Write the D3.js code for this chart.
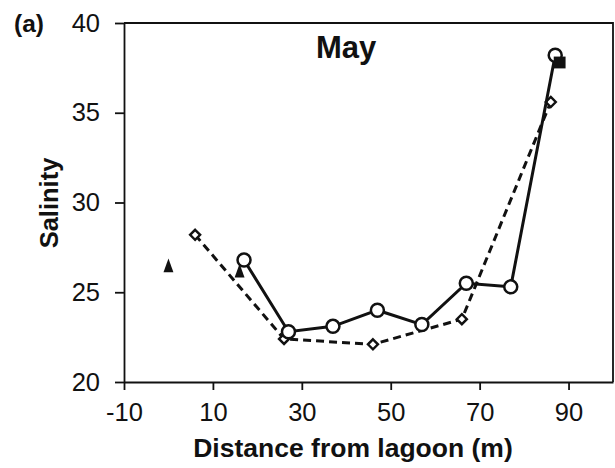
<!DOCTYPE html>
<html>
<head>
<meta charset="utf-8">
<script src="https://cdn.jsdelivr.net/npm/d3@7"></script>
<style>
  body { margin: 0; background: #fff; }
  svg { display: block; font-family: "Liberation Sans", Arial, sans-serif; }
</style>
</head>
<body>
<div id="chart"></div>
<script>
// Salinity along the transect, May

var xTicks = [-10, 10, 30, 50, 70, 90];
var yTicks = [20, 25, 30, 35, 40];

// solid line, open circles
var circleX = [17, 27, 37, 47, 57, 67, 77, 87];
var circleY = [26.8, 22.8, 23.1, 24.0, 23.2, 25.5, 25.3, 38.2];

// dashed line, open diamonds
var diamondX = [6, 26, 46, 66, 86];
var diamondY = [28.2, 22.4, 22.1, 23.5, 35.6];

// filled triangles
var triangleX = [0, 16];
var triangleY = [26.5, 26.2];

// filled square
var squareX = [88];
var squareY = [37.8];

(function() {

    var width = 615;
    var height = 468;

    var margin = { top: 23, right: 2, bottom: 86, left: 124 };

    var svg = d3.select("#chart")
        .append("svg")
        .attr("width", width)
        .attr("height", height);

    var xScale = d3.scaleLinear()
        .domain([-10, 100])
        .range([margin.left, width - margin.right]);

    var yScale = d3.scaleLinear()
        .domain([20, 40])
        .range([height - margin.bottom, margin.top]);

    function pairs(xs, ys) {
        return xs.map(function(x, i) { return { x: x, y: ys[i] }; });
    }

    var ink = "#111111";

    // plain hyphen for negatives, like the original
    function plain(d) {
        return String(d);
    }

    // narrow upright triangle, taller than wide
    var tallTriangle = {
        draw: function(context, size) {
            var s = Math.sqrt(size);
            context.moveTo(0, -s * 0.5);
            context.lineTo(s * 0.36, s * 0.5);
            context.lineTo(-s * 0.36, s * 0.5);
            context.closePath();
        }
    };

    // x axis
    var xAxis = svg.append("g")
        .attr("transform", "translate(0," + yScale(20) + ")")
        .call(d3.axisBottom(xScale).tickValues(xTicks).tickFormat(plain)
            .tickSize(8).tickPadding(13).tickSizeOuter(0));

    // y axis
    var yAxis = svg.append("g")
        .attr("transform", "translate(" + xScale(-10) + ",0)")
        .call(d3.axisLeft(yScale).tickValues(yTicks).tickFormat(plain)
            .tickSize(9).tickPadding(15).tickSizeOuter(0));

    [xAxis, yAxis].forEach(function(g) {
        g.selectAll(".domain").attr("stroke", ink).attr("stroke-width", 1.8);
        g.selectAll(".tick line").attr("stroke", ink).attr("stroke-width", 1.8);
        g.selectAll("text")
            .attr("fill", ink)
            .attr("font-size", "25.5px")
            .attr("font-family", "'Liberation Sans', Arial, sans-serif");
    });

    // top and right frame
    svg.append("path")
        .attr("d", "M" + xScale(-10) + "," + yScale(40) +
                   "H" + xScale(100) + "V" + yScale(20))
        .attr("fill", "none")
        .attr("stroke", ink)
        .attr("stroke-width", 1.8);

    // triangles first (they sit under the circle line)
    svg.selectAll(".tri")
        .data(pairs(triangleX, triangleY))
        .enter()
        .append("path")
        .attr("d", d3.symbol().type(tallTriangle).size(190))
        .attr("transform", function(d) {
            return "translate(" + xScale(d.x) + "," + yScale(d.y) + ")";
        })
        .attr("fill", ink);

    var line = d3.line()
        .x(function(d) { return xScale(d.x); })
        .y(function(d) { return yScale(d.y); });

    // dashed series
    svg.append("path")
        .datum(pairs(diamondX, diamondY))
        .attr("d", line)
        .attr("fill", "none")
        .attr("stroke", ink)
        .attr("stroke-width", 3)
        .attr("stroke-dasharray", "8,5");

    svg.selectAll(".dia")
        .data(pairs(diamondX, diamondY))
        .enter()
        .append("path")
        .attr("d", d3.symbol().type(d3.symbolDiamond2).size(64))
        .attr("transform", function(d) {
            return "translate(" + xScale(d.x) + "," + yScale(d.y) + ")";
        })
        .attr("fill", "#fff")
        .attr("stroke", ink)
        .attr("stroke-width", 2.4);

    // solid series
    svg.append("path")
        .datum(pairs(circleX, circleY))
        .attr("d", line)
        .attr("fill", "none")
        .attr("stroke", ink)
        .attr("stroke-width", 3);

    svg.selectAll(".circ")
        .data(pairs(circleX, circleY))
        .enter()
        .append("circle")
        .attr("cx", function(d) { return xScale(d.x); })
        .attr("cy", function(d) { return yScale(d.y); })
        .attr("r", 6.5)
        .attr("fill", "#fff")
        .attr("stroke", ink)
        .attr("stroke-width", 2.5);

    // square on top
    svg.selectAll(".sq")
        .data(pairs(squareX, squareY))
        .enter()
        .append("path")
        .attr("d", d3.symbol().type(d3.symbolSquare).size(140))
        .attr("transform", function(d) {
            return "translate(" + xScale(d.x) + "," + yScale(d.y) + ")";
        })
        .attr("fill", ink);

    // titles
    svg.append("text")
        .attr("x", 316)
        .attr("y", 58)
        .attr("fill", ink)
        .attr("font-size", "31px")
        .attr("font-weight", "bold")
        .text("May");

    svg.append("text")
        .attr("x", 14)
        .attr("y", 32)
        .attr("fill", ink)
        .attr("font-size", "24.5px")
        .attr("font-weight", "bold")
        .text("(a)");

    svg.append("text")
        .attr("x", 353)
        .attr("y", 457)
        .attr("text-anchor", "middle")
        .attr("fill", ink)
        .attr("font-size", "26.5px")
        .attr("font-weight", "bold")
        .text("Distance from lagoon (m)");

    svg.append("text")
        .attr("transform", "translate(58,203) rotate(-90)")
        .attr("text-anchor", "middle")
        .attr("fill", ink)
        .attr("font-size", "25.5px")
        .attr("font-weight", "bold")
        .text("Salinity");

})();
</script>
</body>
</html>
